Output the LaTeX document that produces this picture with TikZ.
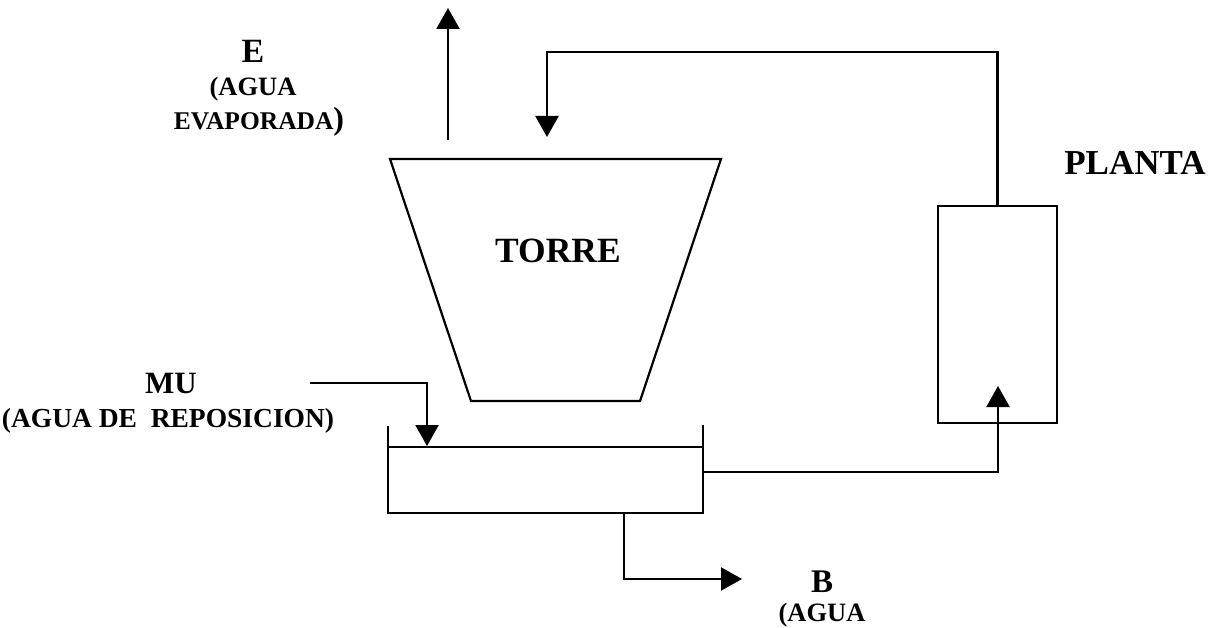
\documentclass[tikz,border=0pt]{standalone}
\usepackage{fontspec}
\setmainfont{Liberation Serif}
\usetikzlibrary{arrows.meta}
\begin{document}
\begin{tikzpicture}[x=1pt,y=-1pt,
  ln/.style={line width=2.2pt},
  arr/.style={ln,-{Triangle[length=21pt,width=23pt]}},
  lbl/.style={anchor=base,inner sep=0pt},
  fbig/.style={font=\fontsize{34}{40}\selectfont\bfseries},
  fmid/.style={font=\fontsize{31}{37}\selectfont\bfseries},
  fsub/.style={font=\fontsize{27.5}{32}\selectfont\bfseries},
  fsmall/.style={font=\fontsize{26.5}{31}\selectfont\bfseries}]
\useasboundingbox (0,0) rectangle (1224,628);
% tower
\coordinate (tTL) at (390,159);
\coordinate (tTR) at (721,159);
\coordinate (tBR) at (640,401);
\coordinate (tBL) at (471,401);
\draw[ln,line join=miter] (tTL) -- (tTR) -- (tBR) -- (tBL) -- cycle;
\node[lbl,font=\fontsize{35.5}{42}\selectfont\bfseries] (torre) at (558,263) {TORRE};
% basin
\coordinate (kTL) at (388,426);
\coordinate (kBL) at (388,513);
\coordinate (kBR) at (703,513);
\coordinate (kTR) at (703,425);
\coordinate (wL) at (388,447);
\coordinate (wR) at (703,447);
\draw[ln,line join=miter] (kTL) -- (kBL) -- (kBR) -- (kTR);
\draw[line width=1.8pt] (wL) -- (wR);
% plant
\node[draw,line width=2.2pt,minimum width=119pt,minimum height=217pt,inner sep=0pt] (planta) at (997.5,314.5) {};
\node[lbl,font=\fontsize{35}{42}\selectfont\bfseries] (plantaLbl) at (1135,175) {PLANTA};
% evaporation
\coordinate (eBot) at (448,140);
\coordinate (eTop) at (448,8);
\draw[arr] (eBot) -- (eTop);
\node[lbl,fbig] (eLbl) at (253,63) {E};
\node[lbl,fsmall] (eSub1) at (253,96) {(AGUA};
\node[lbl,font=\fontsize{25.5}{30}\selectfont\bfseries] (eSub2) at (259,130) {EVAPORADA\fontsize{32}{32}\selectfont)};
% return from plant to tower
\coordinate (retTop) at (547,52);
\coordinate (retTip) at (547,137);
\draw[arr] (planta.north) |- (retTop) -- (retTip);
% make-up
\coordinate (muStart) at (310,383);
\coordinate (muTip) at (427,446);
\draw[arr] (muStart) -| (muTip);
\node[lbl,fmid] (muLbl) at (171,393) {MU};
\node[lbl,fsub] (muSub) at (168,427) {(AGUA DE\ \ REPOSICION)};
% basin to plant
\coordinate (kOut) at (703,472);
\coordinate (plIn) at (998,386);
\draw[arr] (kOut) -| (plIn);
% blowdown
\coordinate (kDrain) at (624,513);
\coordinate (bTip) at (742,579);
\draw[arr] (kDrain) |- (bTip);
\node[lbl,font=\fontsize{33}{40}\selectfont\bfseries] (bLbl) at (822,592) {B};
\node[lbl,fsmall] (bSub) at (822,621) {(AGUA};
\end{tikzpicture}
\end{document}
